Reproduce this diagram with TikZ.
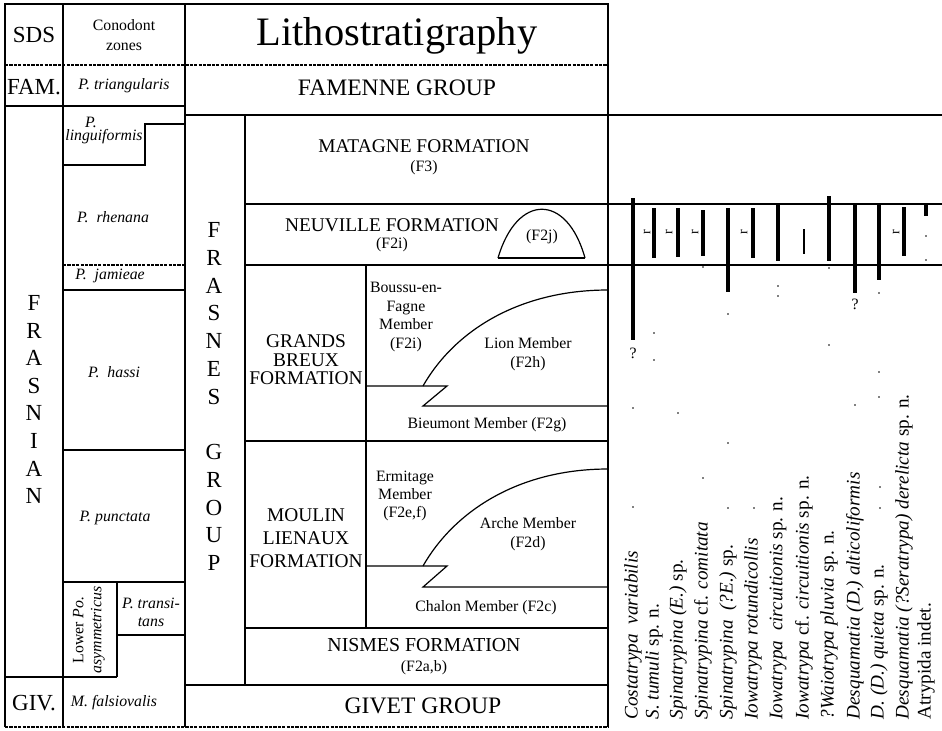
\documentclass[tikz,border=0pt]{standalone}
\usepackage{fontspec}
\setmainfont{Liberation Serif}
\begin{document}
\begin{tikzpicture}[x=0.5pt,y=-0.5pt,line width=0.6pt,
    every node/.style={inner sep=0pt},
    big/.style={font=\fontsize{11.5}{13}\selectfont},
    grp/.style={font=\fontsize{11.8}{13}\selectfont},
    fmn/.style={font=\fontsize{9.7}{9.3}\selectfont,align=center},
    mbr/.style={font=\fontsize{7.9}{9.2}\selectfont,align=center},
    zone/.style={font=\fontsize{7.9}{9}\selectfont\itshape,align=center},
    spc/.style={font=\fontsize{9.6}{11}\selectfont,rotate=90,anchor=west},
    bar/.style={line width=1.6pt},
    fine/.style={dash pattern=on 1.6pt off 0.6pt},
    rare/.style={font=\fontsize{7}{7}\selectfont,rotate=90}]
  \useasboundingbox (0,0) rectangle (942,730);
  % frame and columns
  \draw (5,727) -- (5,4) -- (608,4) -- (608,727);
  \draw[fine] (5,727) -- (608,727);
  \draw[fine] (5,65) -- (608,65);
  \draw (63,4) -- (63,727);
  \draw (185,4) -- (185,727);
  \draw (5,106) -- (185,106);
  \draw (185,115) -- (942,115);
  % conodont zones
  \draw (63,165) -- (145,165) -- (145,124) -- (185,124);
  \draw[fine] (63,265) -- (185,265);
  \draw (63,290) -- (185,290);
  \draw (63,450) -- (185,450);
  \draw (63,582) -- (185,582);
  \draw (117,582) -- (117,677);
  \draw (117,635) -- (185,635);
  \draw (5,677) -- (117,677);
  % lithostratigraphy
  \draw (245,115) -- (245,685);
  \draw (245,204) -- (942,204);
  \draw (245,265) -- (942,265);
  \draw (245,441) -- (608,441);
  \draw (366,265) -- (366,628);
  \draw (245,628) -- (608,628);
  \draw (185,685) -- (608,685);
  \draw (498,258) -- (585,258);
  \draw (498,258) .. controls (517,193) and (567,193) .. (585,258);
  \draw (366,386) -- (447,386) -- (423,406) -- (608,406);
  \draw (423,386) .. controls (455,330) and (520,290) .. (608,290);
  \draw (366,566) -- (447,566) -- (423,587) -- (608,587);
  \draw (423,566) .. controls (455,510) and (520,469) .. (608,469);

  \node[font=\fontsize{20.2}{22}\selectfont] (litho) at (397,36) {Lithostratigraphy};
  \node[big] (sds) at (34,35) {SDS};
  \node[font=\fontsize{7.9}{10}\selectfont,align=center] (cz) at (124,35) {Conodont\\zones};
  \node[big] (fam) at (34,87) {FAM.};
  \node[big] (giv) at (34,703) {GIV.};
  \foreach \l [count=\i from 0] in {F,R,A,S,N,I,A,N}
    \node[big] (frs\i) at (34,303+27.6*\i) {\l};
  \foreach \l [count=\i from 0] in {F,R,A,S,N,E,S}
    \node[big] (fgr\i) at (214,230+27.75*\i) {\l};
  \foreach \l [count=\i from 0] in {G,R,O,U,P}
    \node[big] (gp\i) at (214,452+27.75*\i) {\l};

  \node[zone] (tri) at (124,86) {P. triangularis};
  \node[zone] (lingp) at (91,122) {P.};
  \node[zone] (ling) at (104,137) {linguiformis};
  \node[zone] (rhe) at (113,217) {P.\ \ rhenana};
  \node[zone] (jam) at (110,276) {P.\ \ jamieae};
  \node[zone] (has) at (114,372) {P.\ \ hassi};
  \node[zone] (pun) at (115,518) {P. punctata};
  \node[zone,rotate=90] (asy) at (89,630) {\upshape Lower \itshape Po.\\asymmetricus};
  \node[zone] (trn) at (151,612) {P. transi-\\tans};
  \node[zone] (fal) at (114,703) {M. falsiovalis};

  \node[grp] (famg) at (397,88) {FAMENNE GROUP};
  \node[fmn] (mat) at (424,146) {MATAGNE FORMATION};
  \node[mbr] (matc) at (424,168) {(F3)};
  \node[fmn] (neu) at (392,225) {NEUVILLE FORMATION};
  \node[mbr] (neuc) at (392,245) {(F2i)};
  \node[mbr] (ftj) at (542,237) {(F2j)};
  \node[fmn] (gbx) at (306,360) {GRANDS\\BREUX\\FORMATION};
  \node[mbr] (bou) at (406,317) {Boussu-en-\\Fagne\\Member\\(F2i)};
  \node[mbr] (lio) at (528,354) {Lion Member\\(F2h)};
  \node[mbr] (bie) at (487,425) {Bieumont Member (F2g)};
  \node[fmn,font=\fontsize{9.7}{11.5}\selectfont] (mlx) at (306,538) {MOULIN\\LIENAUX\\FORMATION};
  \node[mbr] (erm) at (405,496) {Ermitage\\Member\\(F2e,f)};
  \node[mbr] (arc) at (528,534) {Arche Member\\(F2d)};
  \node[mbr] (cha) at (486,608) {Chalon Member (F2c)};
  \node[fmn,font=\fontsize{9.9}{11}\selectfont] (nis) at (424,645) {NISMES FORMATION};
  \node[mbr] (nisc) at (424,668) {(F2a,b)};
  \node[grp] (giv) at (423,706) {GIVET GROUP};

  % ranges
  \foreach \x/\a/\b in {633/198/340,654/208/258,678/208/257,703/210/256,728/208/292,
      753/208/258,778/204/261,829/196/261,855/204/293,879/205/280,904/207/256,926/204/216}
    \draw[bar] (\x,\a) -- (\x,\b);
  \draw[line width=1pt] (804,229) -- (804,254);
  \foreach \x in {647,669,695,744,896}
    \node[rare] (r\x) at (\x,232) {r};
  \node[mbr] (qa) at (633,353) {?};
  \node[mbr] (qb) at (855,304) {?};
  \foreach \x/\y in {633/408,633/507,654/333,654/360,678/413,703/267,703/478,728/314,
      728/443,728/508,754/508,778/286,778/296,829/268,829/345,855/405,879/293,
      879/372,879/397,880/487,880/508,926/236,926/260}
    \fill (\x,\y) circle[radius=0.45pt];

  % taxa
  \node[spc] (t1) at (633,720) {\textit{Costatrypa\ \ variabilis}};
  \node[spc] (t2) at (654,720) {\textit{S. tumuli} sp. n.};
  \node[spc] (t3) at (678,720) {\textit{Spinatrypina (E.)} sp.};
  \node[spc] (t4) at (703,720) {\textit{Spinatrypina} cf. \textit{comitata}};
  \node[spc] (t5) at (728,720) {\textit{Spinatrypina\ \ (?E.)} sp.};
  \node[spc] (t6) at (753,720) {\textit{Iowatrypa rotundicollis}};
  \node[spc] (t7) at (778,720) {\textit{Iowatrypa\ \ circuitionis} sp. n.};
  \node[spc] (t8) at (804,720) {\textit{Iowatrypa} cf. \textit{circuitionis} sp. n.};
  \node[spc] (t9) at (829,720) {\textit{?Waiotrypa pluvia} sp. n.};
  \node[spc] (t10) at (855,720) {\textit{Desquamatia (D.) alticoliformis}};
  \node[spc] (t11) at (879,720) {\textit{D. (D.) quieta} sp. n.};
  \node[spc] (t12) at (904,720) {\textit{Desquamatia (?Seratrypa) derelicta} sp. n.};
  \node[spc] (t13) at (926,720) {Atrypida indet.};
\end{tikzpicture}
\end{document}
